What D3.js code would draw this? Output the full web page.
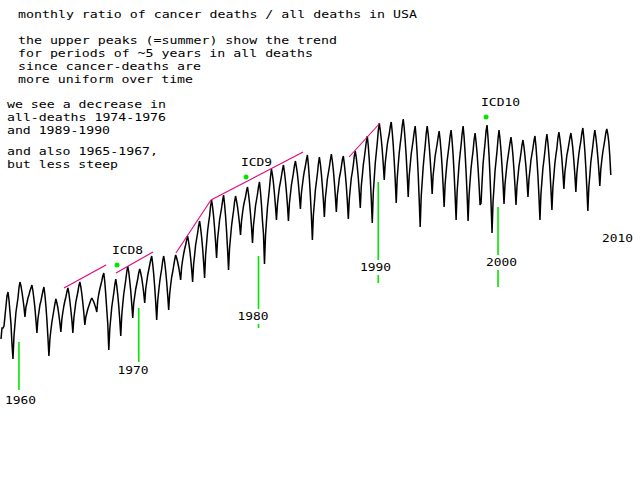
<!DOCTYPE html>
<html><head><meta charset="utf-8">
<script src="https://cdn.jsdelivr.net/npm/d3@7"></script>
<style>html,body{margin:0;padding:0;background:#fff;} svg{display:block;}</style>
</head><body><svg id="c" width="640" height="480"></svg>
<script>
// monthly ratio of cancer deaths / all deaths (per mille), Jan 1959 .. Dec 2009
const startYear = 1959;
const ratio1959 = [150.5,156,156,157,162,167,172,174,170,164,158,148];
const ratio1960s = [
 140.5,152,158,164,167.5,171,176,179,177,174,170.5,166.5,
 161.5,166.5,168.5,171,172.5,174.5,176,177.5,174.5,170.5,166,160,
 153.5,160.5,164,167.5,169.5,172,174.5,176.5,172.5,167,160,151.5,
 142,150.5,155,159,162,165,168,170.5,168.5,166,162.5,158.5,
 154,160.5,164,167,169.5,171.5,174,176,173.5,169.5,165,160,
 153.5,161,165,169,171.5,174,177,179,176.5,173,168.5,163.5,
 157.5,161.5,163.5,165.5,167,168.5,170,171,170,169,167.5,166,
 164,170,173,175.5,177.5,179.5,182,183.5,179,172.5,165,158,
 145,155.5,161,166.5,170,173.5,177.5,180.5,177,172.5,167,160,
 152,162.5,168,173,176.5,180,184,187,184,179.5,174.5,168];
const ratio1970s = [
 161,168.5,172,175.5,178,180.5,183.5,185.5,183.5,181,177.5,173.5,
 168.5,175.5,179,182.5,185,187.5,190,192,188,183,176.5,169,
 160,169.5,174.5,179,182.5,185.5,189.5,192,189,184.5,179,172.5,
 165,173,177.5,181.5,184,187,190,192.5,191,189,186.5,183.5,
 180,186.5,190,193,195.5,197.5,200,202,199,195.5,191,185.5,
 179,188,192.5,197.5,200.5,203.5,207,209.5,206,201.5,196,189,
 181,192.5,198.5,204.5,208.5,212,217,220,216.5,212,206,199,
 191,200.5,205,210,213,216,219.5,222.5,218,212,204.5,195.5,
 185,196,201.5,207,211,214.5,219,222,219.5,216.5,212.5,208,
 202.5,209.5,213.5,217,219.5,221.5,224.5,226.5,223,218.5,213,206.5];
const ratio1980s = [
 198.5,207.5,212,217,220,223,226.5,229,224,217.5,209.5,203,
 188,202,209.5,216.5,221,226,231.5,235.5,232.5,228.5,223,217,
 210,218,222.5,226.5,229,232,235,237.5,234,229.5,224,217.5,
 209.5,218.5,223,227.5,230.5,233.5,237,239.5,236.5,233,228,222,
 215.5,223.5,227.5,231.5,234.5,237,240,242.5,237.5,230.5,222,212,
 200,212.5,218.5,225,229,233,238,241.5,238,233,227,220,
 211.5,221,225.5,230.5,233.5,236.5,240,243,239.5,235,229,222,
 214,222.5,226.5,231,233.5,236.5,240,242,238,233,227,219.5,
 210.5,220.5,226,231,234,237.5,242,244.5,241,236.5,231,224,
 216,227,232,237.5,241,245,249,252,247,240,231,220.5];
const ratio1990s = [
 208.5,223.5,231,238.5,243.5,248.5,254.5,258.5,255,250.5,245,238,
 230,238.5,243,247.5,250.5,253,256.5,259,254,247.5,239.5,230,
 218.5,231,237.5,243.5,248,252,257,260.5,256,249.5,242,232.5,
 221.5,232,237.5,243,246.5,250,254,257,251,243,233,220.5,
 206.5,221.5,229,236.5,242,247,253,257,253,247.5,240.5,232.5,
 223,232.5,237,242,245,248,251.5,254.5,250,244,236.5,227,
 216.5,228,234,239.5,243.5,247.5,252,255,249.5,242.5,233.5,222.5,
 210,224,231,238,243,247.5,253,257,251.5,243.5,234,223,
 209.5,222.5,229.5,236,240.5,244.5,250,253.5,249,243.5,236,227.5,
 217.5,218.5,229,238,243.5,248.5,254.5,257.5,251,242.5,231.5,218.5];
const ratio2000s = [
 203.5,219,226.5,234.5,239.5,244.5,250.5,255,250.5,244.5,237,228.5,
 218,228,233,238,241.5,245,248.5,251.5,247.5,242,235,227,
 217.5,227,232,237,240,243.5,247.5,250,246.5,242,236.5,229.5,
 221.5,230.5,235,240,243,246,249.5,252,247,240,232,222,
 210,223,229.5,236,240,244.5,249.5,253,248.5,242.5,235,225.5,
 215,226.5,232.5,238.5,242.5,246,251,254,250.5,246,240.5,233.5,
 225.5,234,238,242.5,245,248,251,253.5,250,245.5,239.5,232.5,
 224,233.5,238.5,243,246.5,249.5,253.5,256,251,244.5,236,226,
 214.5,226.5,232.5,239,243,247,251.5,255,251.5,247,241.5,235,
 227,235.5,240,244,247,250,253.5,255.5,253,249,242,232.5];

// year markers (line top / bottom and label position in ratio units)
const markerYears  = [1960, 1970, 1980, 1990, 2000, 2010];
const markerTop    = [149, 166, 192, 229, 216.5, null];
const markerBottom = [125, 139, 156, 178.5, 176.5, null];
const markerLabelV = [118, 133, 160, 184.5, 187, 199];
const markerLabelT = [1960.63, 1970.02, 1980.04, 1990.27, 2000.79, 2010.48];

// ICD revisions
const icdNames = ["ICD8", "ICD9", "ICD10"];
const icdTime  = [1968.69, 1979.46, 1999.5];
const icdValue = [187.5, 231.5, 261.5];

// trend lines of the summer peaks
const trendT0 = [1964.26, 1968.60, 1973.61, 1976.53, 1988.06];
const trendV0 = [176, 183.5, 193.5, 220, 241.5];
const trendT1 = [1967.77, 1971.69, 1976.53, 1984.22, 1990.65];
const trendV1 = [187.5, 194, 220, 244, 258.5];

const notes1 = ["monthly ratio of cancer deaths / all deaths in USA", "",
  "the upper peaks (=summer) show the trend",
  "for periods of ~5 years in all deaths",
  "since cancer-deaths are",
  "more uniform over time"];
const notes2 = ["we see a decrease in", "all-deaths 1974-1976", "and 1989-1990"];
const notes3 = ["and also 1965-1967,", "but less steep"];

const values = [].concat(ratio1959, ratio1960s, ratio1970s, ratio1980s, ratio1990s, ratio2000s);
const series = values.map((v, i) => ({t: startYear + i / 12, v}));

const svg = d3.select("#c");
svg.append("rect").attr("width", 640).attr("height", 480).attr("fill", "#fff");

const x = d3.scaleLinear().domain([1959, 2010]).range([1, 611.8]);
const y = d3.scaleLinear().domain([80, 320]).range([480, 0]);

const FONT = "'DejaVu Sans Mono', 'Liberation Mono', monospace";
const FS = "11px";
const CH = 8; // character advance of the reference's monospace font
const GREEN = "#00e600";

function monoText(sel, s) {
  return sel.attr("font-family", FONT).attr("font-size", FS).attr("fill", "#000")
    .attr("textLength", s.length * CH - 1).attr("lengthAdjust", "spacingAndGlyphs")
    .style("white-space", "pre").text(s);
}

// green year marker lines
markerYears.forEach((yr, i) => {
  if (markerTop[i] == null) return;
  const xm = x(yr + 0.5);
  svg.append("line")
    .attr("x1", xm).attr("x2", xm)
    .attr("y1", y(markerTop[i])).attr("y2", y(markerBottom[i]))
    .attr("stroke", GREEN).attr("stroke-width", 1.6);
});

// the data line
svg.append("path").datum(series)
  .attr("d", d3.line().x(d => x(d.t)).y(d => y(d.v)))
  .attr("fill", "none").attr("stroke", "#000").attr("stroke-width", 1.5)
  .attr("stroke-linejoin", "miter").attr("stroke-miterlimit", 2);

// trend lines
trendT0.forEach((t, i) => {
  svg.append("line")
    .attr("x1", x(t)).attr("y1", y(trendV0[i]))
    .attr("x2", x(trendT1[i])).attr("y2", y(trendV1[i]))
    .attr("stroke", "#e6007e").attr("stroke-width", 1.1);
});

// ICD dots and labels
icdNames.forEach((n, i) => {
  svg.append("circle").attr("cx", x(icdTime[i])).attr("cy", y(icdValue[i]))
    .attr("r", 2.5).attr("fill", GREEN);
  monoText(svg.append("text").attr("x", x(icdTime[i]) - 5).attr("y", y(icdValue[i]) - 11), n);
});

// year labels with white background
markerYears.forEach((yr, i) => {
  const s = String(yr);
  const cx = x(markerLabelT[i]);
  const t = monoText(svg.append("text")
    .attr("x", cx - (s.length * CH - 1) / 2).attr("y", y(markerLabelV[i])), s);
  const b = t.node().getBBox();
  svg.insert("rect", () => t.node())
    .attr("x", b.x - 2).attr("y", b.y - 1).attr("width", b.width + 4).attr("height", b.height + 2)
    .attr("fill", "#fff");
});

// notes
function block(lines, x0, y0, lh) {
  lines.forEach((s, i) => {
    if (!s) return;
    monoText(svg.append("text").attr("x", x0).attr("y", y0 + i * lh), s);
  });
}
block([notes1[0]], 18, 18, 13);
block(notes1.slice(2), 18, 44, 13);
block(notes2, 7, 108, 13);
block(notes3, 7, 155, 13);
</script></body></html>
